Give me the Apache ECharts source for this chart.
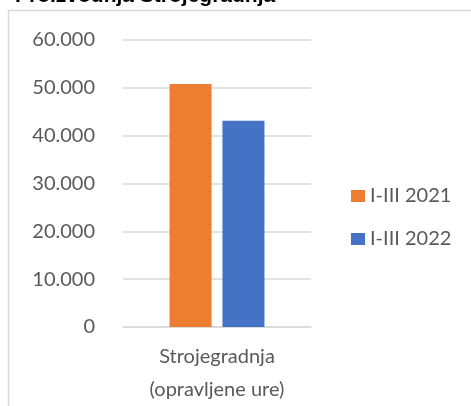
<!DOCTYPE html>
<html>
<head>
<meta charset="utf-8">
<script src="https://cdn.jsdelivr.net/npm/echarts@6/dist/echarts.min.js"></script>
<style>
html,body{margin:0;padding:0;background:#fff;}
#c{width:471px;height:406px;}
</style>
</head>
<body>
<div id="c"></div>
<script>
var titleText = 'Proizvodnja Strojegradnja';
var categories = ['Strojegradnja\n(opravljene ure)'];
var seriesNames = ['I-III 2021', 'I-III 2022'];
var values2021 = [50800];
var values2022 = [43100];
var colors = ['#ED7D31', '#4472C4'];

var chart = echarts.init(document.getElementById('c'), null, {renderer: 'canvas'});
var fmt = function (v) { return String(v).replace(/\B(?=(\d{3})+(?!\d))/g, '.'); };
var labelFont = 'Lato, "Open Sans", sans-serif';
chart.setOption({
  animation: false,
  backgroundColor: '#ffffff',
  graphic: [
    {type: 'rect', shape: {x: 8.5, y: 10.5, width: 600, height: 600}, style: {fill: 'none', stroke: '#d9d9d9', lineWidth: 1.5}, silent: true},
    {type: 'text', x: 15, y: 7, style: {text: titleText, fill: '#000', font: 'bold 21px "Liberation Sans", Arial, sans-serif', verticalAlign: 'bottom', align: 'left'}, silent: true}
  ],
  grid: {left: 123, right: 160, top: 40, bottom: 78, containLabel: false},
  legend: {
    orient: 'vertical', left: 346, top: 181, itemWidth: 14, itemHeight: 12, itemGap: 23,
    icon: 'rect',
    textStyle: {color: '#595959', fontSize: 20, fontFamily: labelFont, lineHeight: 20},
    data: seriesNames
  },
  xAxis: {
    type: 'category', data: categories,
    axisLine: {show: true, lineStyle: {color: '#d9d9d9', width: 1.5}},
    axisTick: {show: false},
    axisLabel: {color: '#595959', fontSize: 20, fontFamily: labelFont, lineHeight: 33, margin: 13}
  },
  yAxis: {
    type: 'value', min: 0, max: 60000, interval: 10000,
    axisLine: {show: false}, axisTick: {show: false},
    splitLine: {lineStyle: {color: '#d9d9d9', width: 1.5}},
    axisLabel: {color: '#595959', fontSize: 20, fontFamily: labelFont, margin: 28, formatter: fmt}
  },
  series: [
    {name: seriesNames[0], type: 'bar', data: values2021, barWidth: 42, barGap: '26%', itemStyle: {color: colors[0]}},
    {name: seriesNames[1], type: 'bar', data: values2022, barWidth: 42, barGap: '26%', itemStyle: {color: colors[1]}}
  ]
});
</script>
</body>
</html>
